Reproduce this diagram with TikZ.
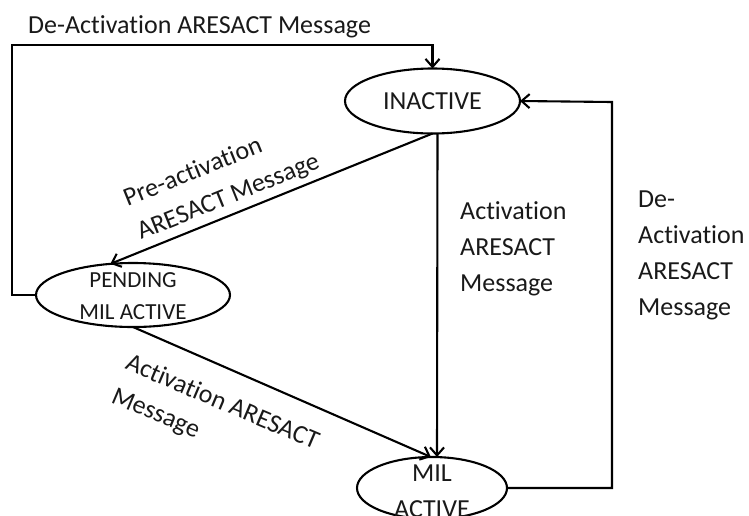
\documentclass[tikz,border=0pt]{standalone}
\usepackage{fontspec}
\setmainfont{Carlito}[Ligatures={NoCommon}]
\usetikzlibrary{shapes.geometric,arrows.meta}
\begin{document}
\begin{tikzpicture}[x=1pt,y=-1pt,
  state/.style={ellipse,draw,line width=2.1pt,inner sep=0pt,outer sep=0pt},
  conn/.style={line width=2.1pt,-{Straight Barb[length=8pt,width=14pt]}},
  lbl/.style={font=\fontsize{26}{36}\selectfont,text=black!90,inner sep=0pt},
  small/.style={font=\fontsize{23}{32}\selectfont,text=black!90,inner sep=0pt}
]
\useasboundingbox (0,0) rectangle (749,515);
% states
\node[state,minimum width=175pt,minimum height=65pt] (inactive) at (432.5,101) {};
\node[lbl] (inactivetext) at (inactive.center) {INACTIVE};
\node[state,minimum width=194pt,minimum height=64pt] (pending) at (133,295) {};
\node[small,align=center] (pendingtext) at (133,296) {PENDING\\MIL ACTIVE};
\node[state,minimum width=150pt,minimum height=62pt] (milactive) at (432,488) {};
\node[lbl,align=center] (miltext) at (432,491) {MIL\\ACTIVE};
% corner coordinates
\coordinate (lt) at (12,45);
\coordinate (rt) at (612,102);
% connectors
\draw[conn] (pending.west) -| (lt) -| (inactive.north);
\draw[conn] (milactive.east) -| (rt) -- (inactive.east);
\draw[conn] ([xshift=5pt]inactive.south) -- ([xshift=5pt]milactive.north);
\draw[conn] (inactive.south) -- (pending.126);
\draw[conn] (pending.south) -- (milactive.92);
% labels (base anchor = baseline of the last line)
\node[lbl,anchor=base west] (toplbl) at (28,33) {De-Activation ARESACT Message};
\node[lbl,align=left,anchor=base west] (midlbl) at (460,291) {Activation\\ARESACT\\Message};
\node[lbl,align=left,anchor=base west] (rightlbl) at (638,315) {De-\\Activation\\ARESACT\\Message};
\node[lbl,align=left,anchor=base west,rotate=22] (prelbl) at (141,240) {Pre-activation\\ARESACT Message};
\node[lbl,align=left,anchor=base west,rotate=-23] (actlbl) at (110,402) {Activation ARESACT\\Message};
\end{tikzpicture}
\end{document}
